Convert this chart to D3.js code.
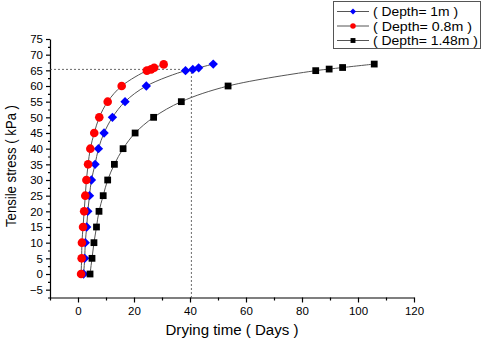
<!DOCTYPE html>
<html>
<head>
<meta charset="utf-8">
<script src="https://cdn.jsdelivr.net/npm/d3@7"></script>
<style>
  body { margin: 0; background: #fff; }
  svg { font-family: "Liberation Sans", Arial, sans-serif; }
</style>
</head>
<body>
<svg width="484" height="340"></svg>
<script>
// drying time (days) and tensile stress (kPa) for each depth
const days1m = [2.0, 2.4, 2.6, 3.1, 3.5, 4.1, 4.8, 6.1, 7.3, 9.3, 12.3, 16.8, 24.4, 38.4, 41.0, 43.1, 48.3];
const kpa1m = [0, 5, 10, 15, 20, 25, 30, 35, 40, 45, 50, 55, 60, 64.9, 65.3, 65.8, 67.0];

const days08m = [1.1, 1.3, 1.4, 1.8, 2.2, 2.6, 3.0, 3.6, 4.4, 5.8, 7.6, 10.6, 15.6, 24.6, 26.1, 27.2, 30.6];
const kpa08m = [0, 5, 10, 15, 20, 25, 30, 35, 40, 45, 50, 55, 60, 64.9, 65.3, 65.8, 66.9];

const days148m = [4.3, 5.0, 5.7, 6.6, 7.5, 9.0, 10.6, 13.0, 16.1, 20.4, 27.0, 36.9, 53.6, 84.9, 89.7, 94.5, 105.8];
const kpa148m = [0, 5, 10, 15, 20, 25, 30, 35, 40, 45, 50, 55, 60, 64.9, 65.4, 65.9, 67.0];

const seriesNames = ['( Depth= 1m )', '( Depth= 0.8m )', '( Depth= 1.48m )'];

// reference guide at the 65 kPa level
const guideDays = 40.5;
const guideKpa = 65.3;

const xTicks = [0, 20, 40, 60, 80, 100, 120];
const yTicks = [-5, 0, 5, 10, 15, 20, 25, 30, 35, 40, 45, 50, 55, 60, 65, 70, 75];

const series = [
  {name: seriesNames[0], days: days1m, kpa: kpa1m, color: '#0000ff', shape: 'diamond'},
  {name: seriesNames[1], days: days08m, kpa: kpa08m, color: '#ff0000', shape: 'circle'},
  {name: seriesNames[2], days: days148m, kpa: kpa148m, color: '#000000', shape: 'square'}
];

const svg = d3.select('svg');

const x = d3.scaleLinear().domain([-10, 120]).range([50, 414]);
const y = d3.scaleLinear().domain([-7.5, 75]).range([297.5, 39]);

const g = svg.append('g');

// axes
g.append('g')
  .attr('transform', 'translate(0,' + y(-7.5) + ')')
  .call(d3.axisBottom(x).tickValues(xTicks).tickSize(5).tickSizeOuter(0).tickPadding(4));
g.append('g')
  .attr('transform', 'translate(0,' + y(-7.5) + ')')
  .call(d3.axisBottom(x).tickValues([-10, 10, 30, 50, 70, 90, 110]).tickSize(3).tickFormat(''))
  .select('.domain').remove();

g.append('g')
  .attr('transform', 'translate(' + x(-10) + ',0)')
  .call(d3.axisLeft(y).tickValues(yTicks).tickSize(4).tickSizeOuter(0).tickPadding(3));
g.append('g')
  .attr('transform', 'translate(' + x(-10) + ',0)')
  .call(d3.axisLeft(y).tickValues(d3.range(-7.5, 75, 5)).tickSize(2).tickFormat(''))
  .select('.domain').remove();

svg.selectAll('.tick text').attr('font-size', 11.5).attr('fill', '#000')
  .attr('font-family', '"Liberation Sans", Arial, sans-serif');
svg.selectAll('.domain, .tick line').attr('stroke', '#000').attr('stroke-width', 1.2);

// axis titles
g.append('text')
  .attr('x', 232).attr('y', 335)
  .attr('text-anchor', 'middle')
  .attr('font-size', 14)
  .attr('textLength', 133)
  .attr('lengthAdjust', 'spacingAndGlyphs')
  .text('Drying time ( Days )');
g.append('text')
  .attr('transform', 'translate(16,166) rotate(-90)')
  .attr('text-anchor', 'middle')
  .attr('font-size', 14.5)
  .attr('textLength', 122)
  .attr('lengthAdjust', 'spacingAndGlyphs')
  .text('Tensile stress ( kPa )');

// dotted guide lines
g.append('path')
  .attr('d', 'M' + x(-10) + ',' + y(guideKpa) + 'H' + x(guideDays) + 'V' + y(-7.5))
  .attr('fill', 'none')
  .attr('stroke', '#444')
  .attr('stroke-width', 0.8)
  .attr('stroke-dasharray', '2,2');

const symbolFor = s => s === 'circle' ? d3.symbolCircle : d3.symbolSquare;
const sizeFor = s => s === 'diamond' ? 44 : s === 'circle' ? 58 : 46;
const rot = s => s === 'diamond' ? ' rotate(45)' : '';

const line = d3.line().curve(d3.curveCatmullRom.alpha(0.5));

series.forEach(s => {
  const pts = s.days.map((d, i) => [x(d), y(s.kpa[i])]);
  g.append('path')
    .attr('d', line(pts))
    .attr('fill', 'none')
    .attr('stroke', '#555')
    .attr('stroke-width', 1);
});

series.forEach(s => {
  const pts = s.days.map((d, i) => [x(d), y(s.kpa[i])]);
  g.selectAll(null)
    .data(pts)
    .enter()
    .append('path')
    .attr('transform', d => 'translate(' + d[0] + ',' + d[1] + ')' + rot(s.shape))
    .attr('d', d3.symbol().type(symbolFor(s.shape)).size(sizeFor(s.shape)))
    .attr('fill', s.color);
});

// legend
const legend = g.append('g');
legend.append('rect')
  .attr('x', 333.5).attr('y', 1.5).attr('width', 147).attr('height', 47)
  .attr('fill', '#fff').attr('stroke', '#555').attr('stroke-width', 1);
const rowsY = [11.5, 26, 40.5];
const legendLen = [85, 99, 105];
series.forEach((s, i) => {
  const ly = rowsY[i];
  legend.append('line')
    .attr('x1', 337).attr('x2', 369).attr('y1', ly).attr('y2', ly)
    .attr('stroke', '#555').attr('stroke-width', 1);
  legend.append('path')
    .attr('transform', 'translate(353,' + ly + ')' + rot(s.shape))
    .attr('d', d3.symbol().type(symbolFor(s.shape)).size(s.shape === 'diamond' ? 18 : 24))
    .attr('fill', s.color);
  legend.append('text')
    .attr('x', 373).attr('y', ly + 4.5)
    .attr('font-size', 12.5)
    .attr('textLength', legendLen[i])
    .attr('lengthAdjust', 'spacingAndGlyphs')
    .text(s.name);
});
</script>
</body>
</html>
